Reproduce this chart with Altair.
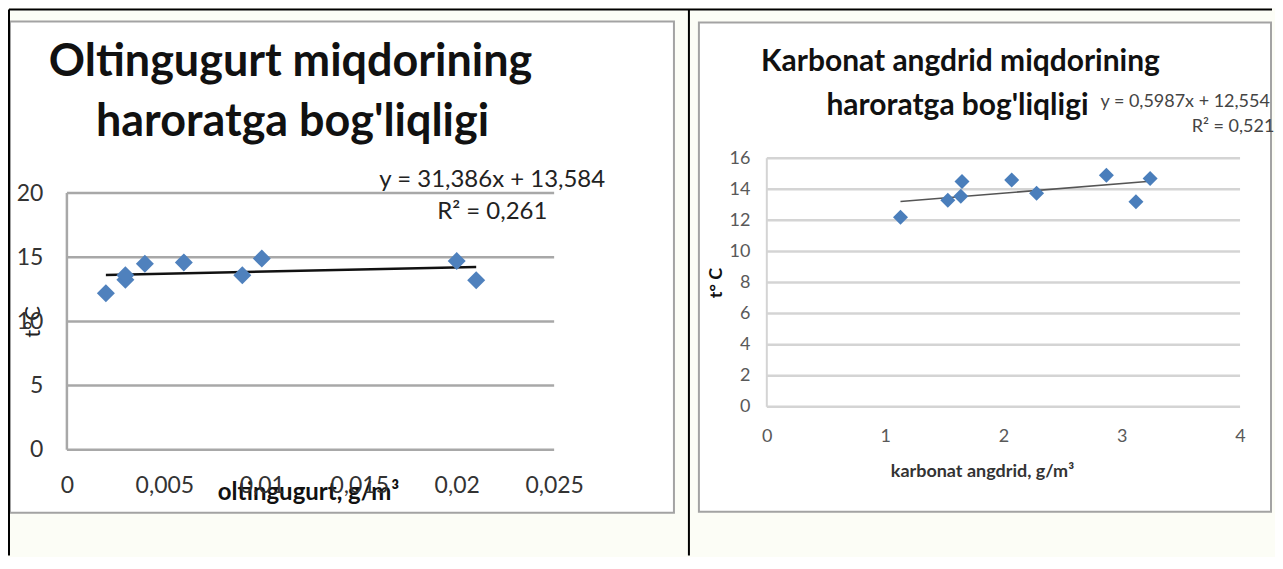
import altair as alt
import pandas as pd

FONT = "Lato"

# ---------------- data ----------------
sulfur = [0.002, 0.003, 0.003, 0.004, 0.006, 0.009, 0.010, 0.020, 0.021]
temp_s = [12.2, 13.25, 13.6, 14.5, 14.6, 13.6, 14.9, 14.7, 13.2]
co2 = [1.13, 1.53, 1.64, 1.65, 2.07, 2.28, 2.87, 3.12, 3.24]
temp_c = [12.2, 13.3, 13.55, 14.5, 14.6, 13.75, 14.9, 13.2, 14.7]

left_x_ticks = [0, 0.005, 0.01, 0.015, 0.02, 0.025]
left_y_ticks = [0, 5, 10, 15, 20]
right_x_ticks = [0, 1, 2, 3, 4]
right_y_ticks = [0, 2, 4, 6, 8, 10, 12, 14, 16]

left_title = ["Oltingugurt miqdorining", "haroratga bog'liqligi"]
left_eq = ["y = 31,386x + 13,584", "R\u00b2 = 0,261"]
left_xtitle = "oltingugurt, g/m\u00b3"
left_ytitle = "t\u00b0C"

right_title = ["Karbonat angdrid miqdorining", "haroratga bog'liqligi"]
right_eq = ["y = 0,5987x + 12,554", "R\u00b2 = 0,521"]
right_xtitle = "karbonat angdrid, g/m\u00b3"
right_ytitle = "t\u00b0 C"

ONE = alt.Data(values=[{"k": 1}])


def txt(s, x, y, size, bold=False, color="#111111", angle=0, align="center"):
    return alt.Chart(alt.Data(values=[{"t": s}])).mark_text(
        font=FONT, fontSize=size, fontWeight="bold" if bold else "normal",
        color=color, align=align, baseline="middle", angle=angle
    ).encode(x=alt.value(x), y=alt.value(y), text="t:N")


def box(x1, x2, y1, y2):
    return alt.Chart(ONE).mark_rect(fill="white", stroke="#a3a3a3", strokeWidth=2).encode(
        x=alt.value(x1), x2=alt.value(x2), y=alt.value(y1), y2=alt.value(y2))


def line(x1, x2, y1, y2, color="black", w=2):
    return alt.Chart(ONE).mark_rule(color=color, strokeWidth=w).encode(
        x=alt.value(x1), x2=alt.value(x2), y=alt.value(y1), y2=alt.value(y2))


def axis(values, pad, size, color, expr=None):
    kw = dict(values=values, grid=False, domain=False, ticks=False, tickSize=0,
              labelPadding=pad, labelFont=FONT, labelFontSize=size, labelColor=color,
              title=None, labelFlush=False, labelOverlap=False, zindex=1)
    if expr:
        kw["labelExpr"] = expr
    return alt.Axis(**kw)


# ---------------- left chart ----------------
W1, H1 = 488, 292
ys1 = alt.Scale(domain=[0, 22.72], nice=False, zero=False)
xs1 = alt.Scale(domain=[0, 0.025], nice=False)
ax1x = axis(left_x_ticks, 25, 23, "#333333", "replace(toString(datum.value), '.', ',')")
ax1y = axis(left_y_ticks, 24, 23, "#333333")
df1 = pd.DataFrame({"x": sulfur, "y": temp_s})

grid1 = alt.Chart(pd.DataFrame({"y": left_y_ticks})).mark_rule(
    color="#a8a8a8", strokeWidth=2.5).encode(
    y=alt.Y("y:Q", scale=ys1, axis=ax1y), x=alt.value(0), x2=alt.value(W1))
vax1 = alt.Chart(pd.DataFrame({"y": [left_y_ticks[0]], "b": [left_y_ticks[-1]]})).mark_rule(
    color="#a8a8a8", strokeWidth=2.5).encode(
    x=alt.value(0), y=alt.Y("y:Q", scale=ys1, axis=ax1y), y2="b:Q")
pts1 = alt.Chart(df1).mark_point(shape="diamond", filled=True, size=324,
                                 color="#4f81bd", opacity=1).encode(
    x=alt.X("x:Q", scale=xs1, axis=ax1x),
    y=alt.Y("y:Q", scale=ys1, axis=ax1y))
trend1 = alt.Chart(df1).transform_regression("x", "y").mark_line(
    color="#111111", strokeWidth=2.5).encode(
    x=alt.X("x:Q", scale=xs1, axis=ax1x), y=alt.Y("y:Q", scale=ys1, axis=ax1y))

left = alt.layer(
    box(-57, 608, -137, 355),
    line(-58, -58, -149, 398),
    line(-58, 1207, -149, -149),
    line(623, 623, -149, 398),
    grid1, vax1, trend1, pts1,
    txt(left_title[0], 224, -96, 45, bold=True),
    txt(left_title[1], 226, -36, 45, bold=True),
    txt(left_eq[0], 426, 22, 24, color="#222222"),
    txt(left_eq[1], 426, 54, 24, color="#222222"),
    txt(left_ytitle, -34, 164, 22, color="#222222", angle=270),
    txt(left_xtitle, 242, 335, 24, bold=True),
).properties(width=W1, height=H1)

# ---------------- right chart ----------------
W2, H2 = 474, 249
ys2 = alt.Scale(domain=[0, 16], nice=False)
xs2 = alt.Scale(domain=[0, 4], nice=False)
ax2x = axis(right_x_ticks, 21, 18, "#595959")
ax2y = axis(right_y_ticks, 17, 18, "#595959")
df2 = pd.DataFrame({"x": co2, "y": temp_c})

grid2 = alt.Chart(pd.DataFrame({"y": right_y_ticks})).mark_rule(
    color="#d4d4d4", strokeWidth=2.5).encode(
    y=alt.Y("y:Q", scale=ys2, axis=ax2y), x=alt.value(0), x2=alt.value(W2))
vax2 = alt.Chart(pd.DataFrame({"y": [right_y_ticks[0]], "b": [right_y_ticks[-1]]})).mark_rule(
    color="#d4d4d4", strokeWidth=2).encode(
    x=alt.value(0), y=alt.Y("y:Q", scale=ys2, axis=ax2y), y2="b:Q")
pts2 = alt.Chart(df2).mark_point(shape="diamond", filled=True, size=225,
                                 color="#4a7ebb", opacity=1).encode(
    x=alt.X("x:Q", scale=xs2, axis=ax2x),
    y=alt.Y("y:Q", scale=ys2, axis=ax2y))
trend2 = alt.Chart(df2).transform_regression("x", "y").mark_line(
    color="#555555", strokeWidth=1.5).encode(
    x=alt.X("x:Q", scale=xs2, axis=ax2x), y=alt.Y("y:Q", scale=ys2, axis=ax2y))

right = alt.layer(
    box(-68, 505, -136, 354),
    grid2, vax2, trend2, pts2,
    txt(right_title[0], 194, -96, 30, bold=True),
    txt(right_title[1], 191, -52, 30, bold=True),
    txt(right_eq[0], 419, -56, 18, color="#444444"),
    txt(right_eq[1], 467, -31, 18, color="#444444"),
    txt(right_ytitle, -50, 125, 18, bold=True, angle=270),
    txt(right_xtitle, 216, 314, 18, bold=True, color="#333333"),
).properties(width=W2, height=H2)

chart = alt.hconcat(left, right, spacing=213, bounds="flush", padding=0).configure(
    background="#fcfdf6"
).configure_view(stroke=None)

chart.save("out.html", embed_options={"renderer": "svg", "actions": False})
